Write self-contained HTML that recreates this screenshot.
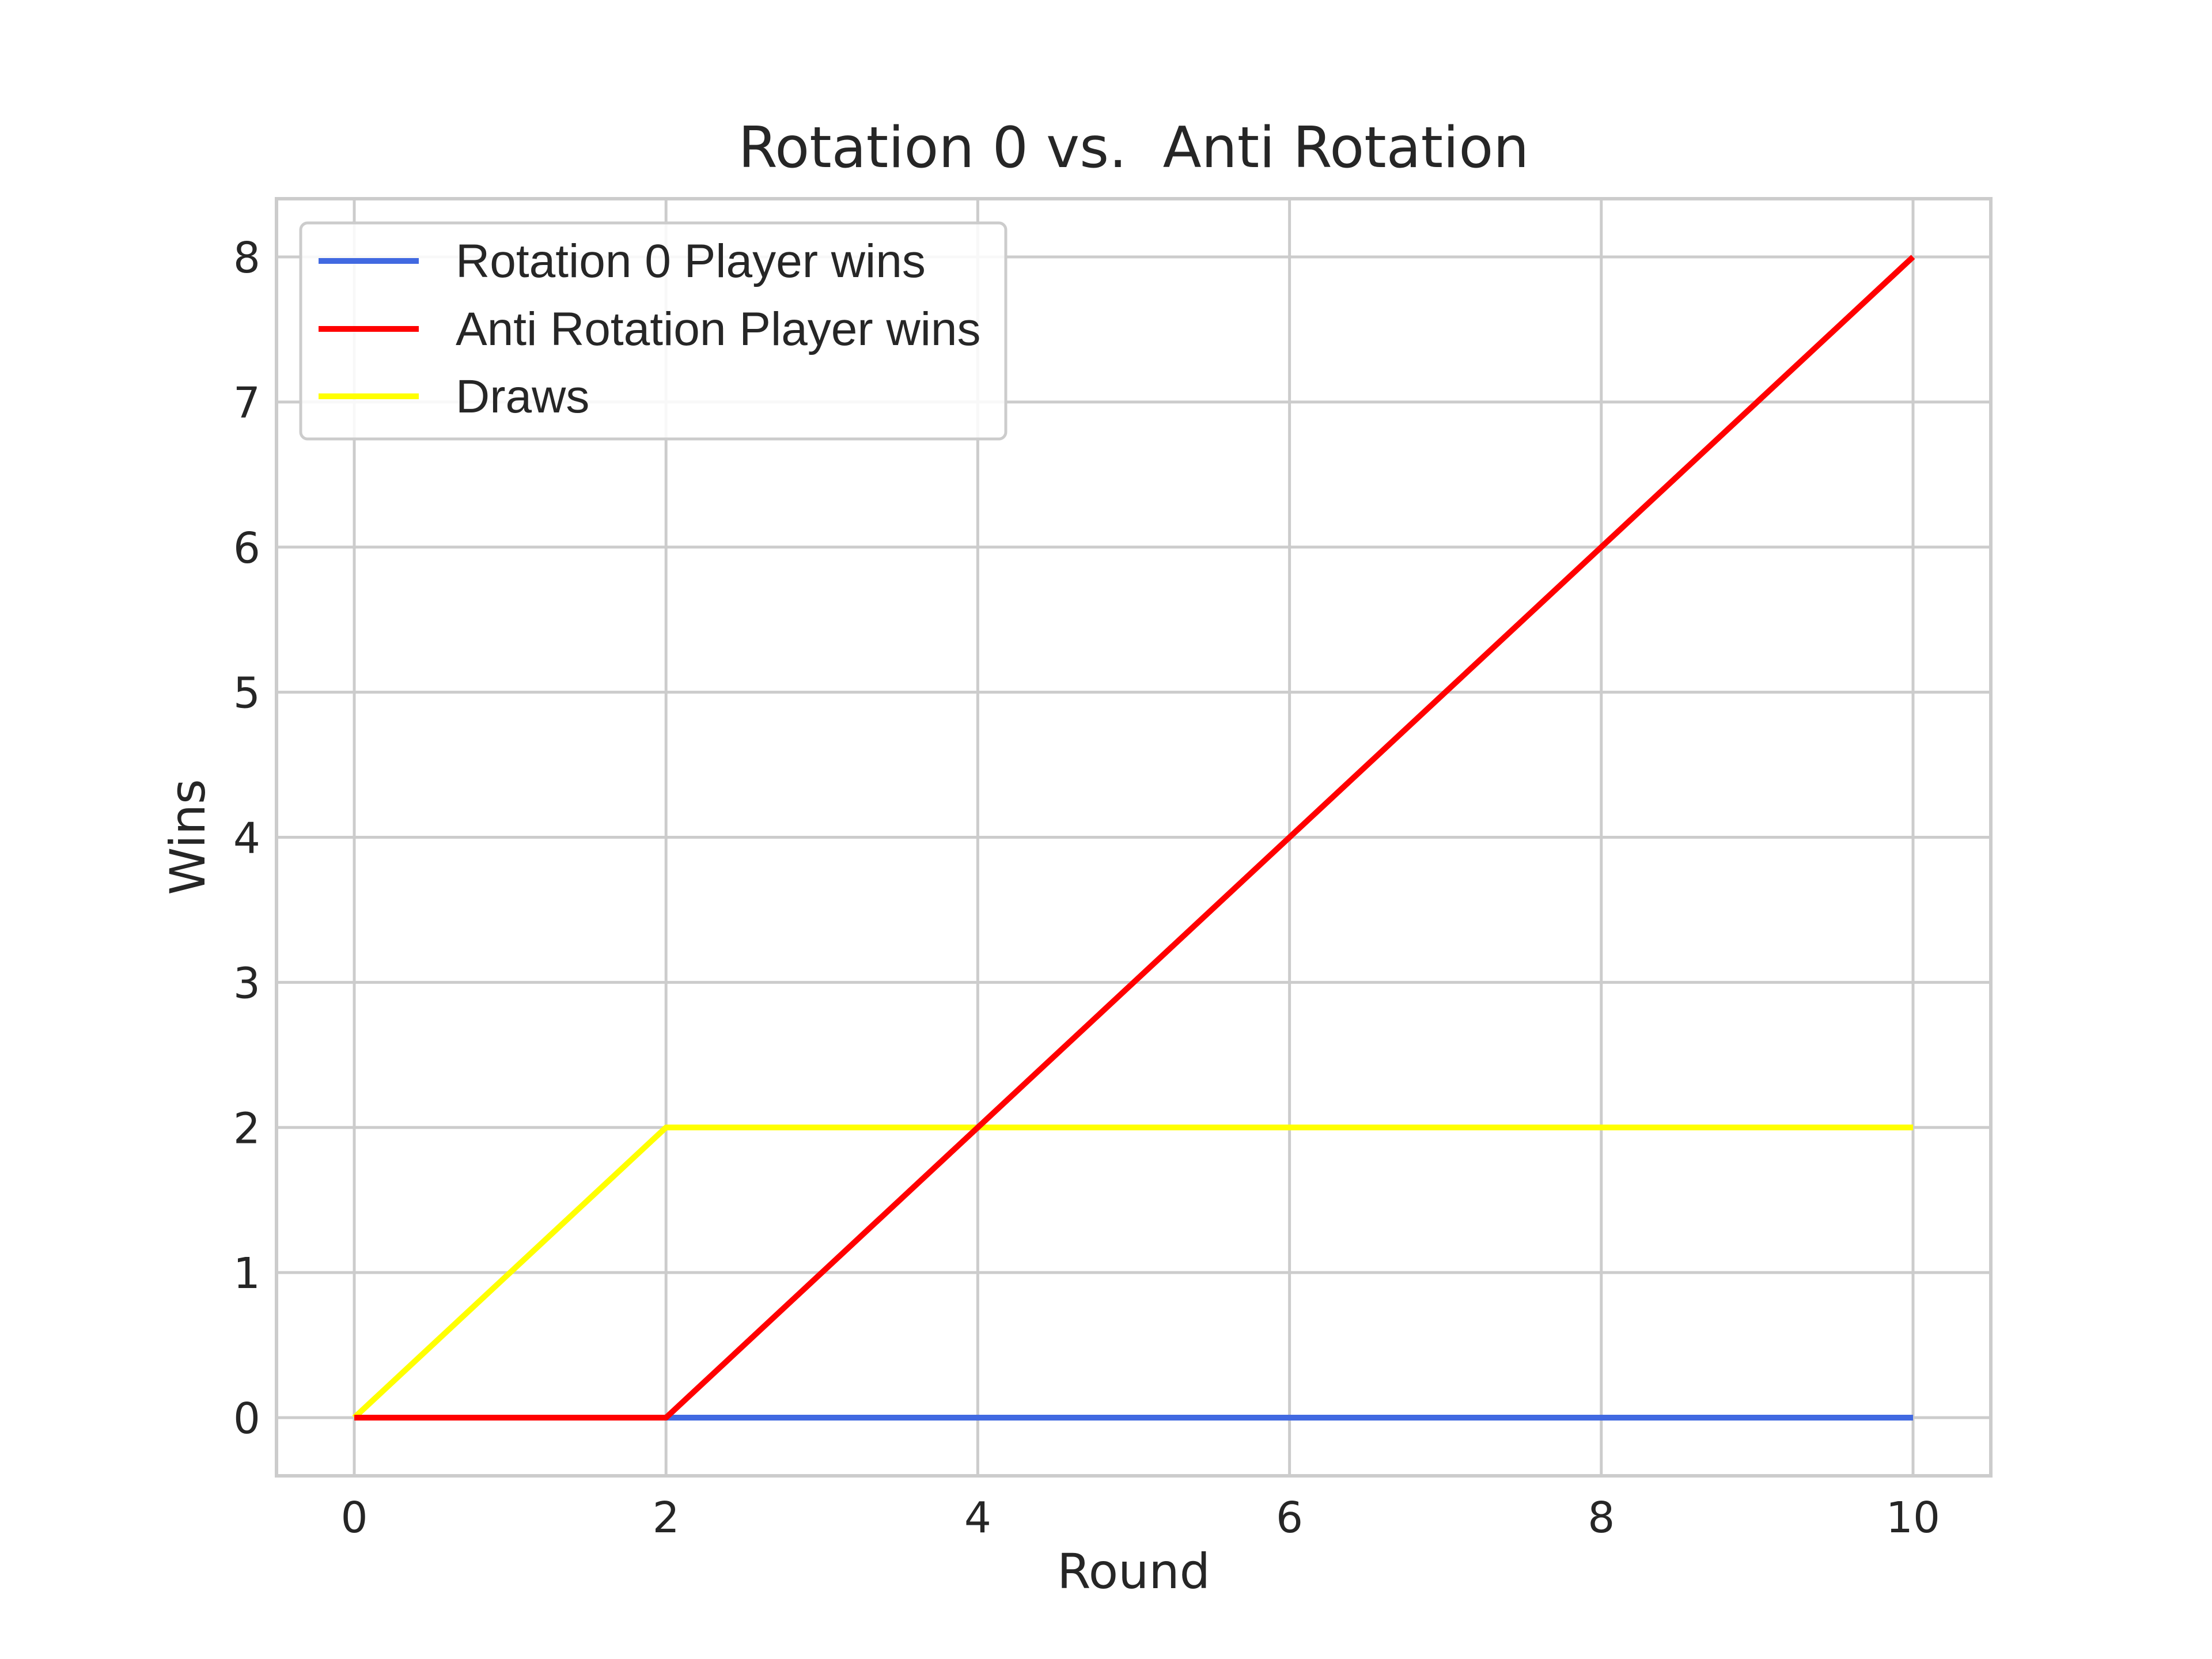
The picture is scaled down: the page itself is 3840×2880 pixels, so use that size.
<!DOCTYPE html>
<html><head><meta charset="utf-8"><style>
html,body{margin:0;padding:0;background:#fff}
svg{display:block}
</style></head><body>
<svg id="chart" width="3840" height="2880" viewBox="0 0 3840 2880" xmlns="http://www.w3.org/2000/svg">
<rect width="3840" height="2880" fill="#fff"/>
<g id="grid"></g>
<rect x="480" y="345" width="2976" height="2217" fill="none" stroke="#cccccc" stroke-width="6"/>
<g id="series"></g>
<g id="ticks"></g>
<text x="1968" y="290" font-family="DejaVu Sans, sans-serif" font-size="98" fill="#262626" text-anchor="middle">Rotation 0 vs.&#160; Anti Rotation</text>
<text x="1968" y="2757" font-family="DejaVu Sans, sans-serif" font-size="84" fill="#262626" text-anchor="middle">Round</text>
<text x="355" y="1453" font-family="DejaVu Sans, sans-serif" font-size="84" fill="#262626" text-anchor="middle" transform="rotate(-90 355 1453)">Wins</text>
<g>
<rect x="522" y="387" width="1224" height="375" rx="12" fill="#fff" fill-opacity="0.85" stroke="#cccccc" stroke-width="5"/>
<line x1="553" y1="453" x2="727" y2="453" stroke="#4169e1" stroke-width="10"/>
<text x="791" y="481" font-family="Liberation Sans, sans-serif" font-size="82" fill="#262626">Rotation 0 Player wins</text>
<line x1="553" y1="571" x2="727" y2="571" stroke="#ff0000" stroke-width="10"/>
<text x="791" y="599" font-family="Liberation Sans, sans-serif" font-size="82" fill="#262626">Anti Rotation Player wins</text>
<line x1="553" y1="688" x2="727" y2="688" stroke="#ffff00" stroke-width="10"/>
<text x="791" y="716" font-family="Liberation Sans, sans-serif" font-size="82" fill="#262626">Draws</text>
</g>
</svg>
<script>
const rounds = [0,1,2,3,4,5,6,7,8,9,10];
const rotationWins = [0,0,0,0,0,0,0,0,0,0,0];
const antiWins = [0,0,0,1,2,3,4,5,6,7,8];
const draws = [0,1,2,2,2,2,2,2,2,2,2];
const xTicks = [0,2,4,6,8,10];
const yTicks = [0,1,2,3,4,5,6,7,8];
const NS = 'http://www.w3.org/2000/svg';
const X = v => 615 + v * (3321 - 615) / 10;
const Y = v => 2461 - v * (2461 - 446) / 8;
const grid = document.getElementById('grid');
const ticks = document.getElementById('ticks');
const series = document.getElementById('series');
function mk(tag, attrs, parent){const e=document.createElementNS(NS,tag);for(const k in attrs)e.setAttribute(k,attrs[k]);parent.appendChild(e);return e;}
xTicks.forEach(t=>{
  const l=mk('line',{x1:X(t),x2:X(t),y1:345,y2:2562,stroke:'#cccccc','stroke-width':5},grid);
  
  
  const tx=mk('text',{x:X(t),y:2660,'font-family':'DejaVu Sans, sans-serif','font-size':74,fill:'#262626','text-anchor':'middle'},ticks);
  tx.textContent=t;
  
  
});
yTicks.forEach(t=>{
  const l=mk('line',{x1:480,x2:3456,y1:Y(t),y2:Y(t),stroke:'#cccccc','stroke-width':5},grid);
  
  
  const tx=mk('text',{x:452,y:Y(t)+27,'font-family':'DejaVu Sans, sans-serif','font-size':74,fill:'#262626','text-anchor':'end'},ticks);
  tx.textContent=t;
  
  
});
function line(vals,color,name){
  const p=mk('polyline',{points:rounds.map((r,i)=>X(r)+','+Y(vals[i])).join(' '),fill:'none',stroke:color,'stroke-width':10,'stroke-linejoin':'round'},series);
  
  
}
line(rotationWins,'#4169e1','rotation0-line');
line(draws,'#ffff00','draws-line');
line(antiWins,'#ff0000','anti-rotation-line');
</script>
</body></html>
